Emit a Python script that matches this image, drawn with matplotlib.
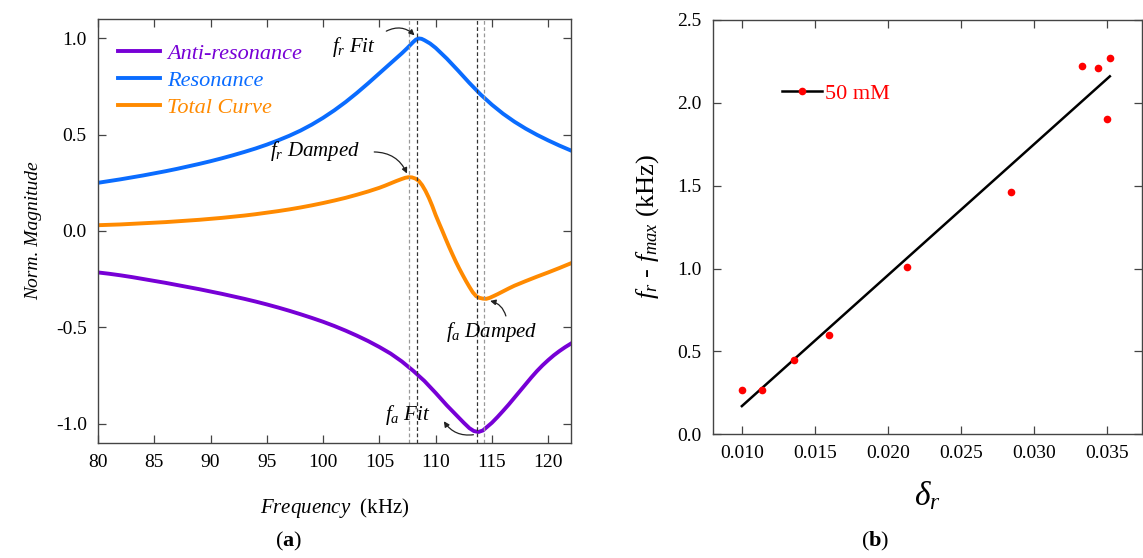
import matplotlib
matplotlib.use('Agg')
import matplotlib.pyplot as plt
from matplotlib.lines import Line2D

plt.rcParams['font.family'] = ['Liberation Serif', 'DejaVu Serif']
plt.rcParams['mathtext.fontset'] = 'custom'
plt.rcParams['mathtext.rm'] = 'Liberation Serif'
plt.rcParams['mathtext.it'] = 'Liberation Serif:italic'
plt.rcParams['mathtext.bf'] = 'Liberation Serif:bold'
plt.rcParams['axes.unicode_minus'] = False

# (a) normalised magnitude curves
freq_res = [80, 81, 82, 83, 84, 85, 86, 87, 88, 89, 90, 91, 92, 93, 94, 95, 96, 97, 98, 99,
            100, 101, 102, 103, 104, 105, 106, 106.5, 107, 107.5, 108, 108.25, 108.5, 108.75,
            109, 109.5, 110, 111, 112, 113, 114, 115, 116, 117, 118, 119, 120, 121, 122]
resonance = [0.250, 0.259, 0.268, 0.278, 0.288, 0.299, 0.310, 0.322, 0.335, 0.348, 0.362,
             0.377, 0.393, 0.410, 0.428, 0.448, 0.470, 0.494, 0.521, 0.552, 0.587, 0.626,
             0.669, 0.716, 0.766, 0.818, 0.870, 0.896, 0.922, 0.950, 0.980, 0.993, 0.999,
             0.997, 0.990, 0.973, 0.950, 0.894, 0.832, 0.768, 0.708, 0.655, 0.608, 0.567,
             0.531, 0.499, 0.470, 0.443, 0.418]

freq_tot = [80, 81, 82, 83, 84, 85, 86, 87, 88, 89, 90, 91, 92, 93, 94, 95, 96, 97, 98, 99,
            100, 101, 102, 103, 104, 105, 105.5, 106, 106.5, 107, 107.3, 107.6, 107.9, 108.2,
            108.5, 108.8, 109.1, 109.4, 109.7, 110, 110.3, 110.6, 110.9, 111.2, 111.5, 111.8,
            112.1, 112.4, 112.7, 113, 113.3, 113.6, 113.9, 114.2, 114.5, 114.8, 115.1, 115.5,
            116, 116.5, 117, 117.5, 118, 119, 120, 121, 122]
total = [0.030, 0.032, 0.034, 0.037, 0.040, 0.043, 0.046, 0.050, 0.054, 0.058, 0.063, 0.068,
         0.074, 0.080, 0.087, 0.095, 0.103, 0.112, 0.122, 0.133, 0.145, 0.158, 0.172, 0.188,
         0.205, 0.224, 0.235, 0.247, 0.259, 0.270, 0.276, 0.279, 0.278, 0.272, 0.260, 0.238,
         0.208, 0.172, 0.130, 0.083, 0.041, 0.000, -0.042, -0.083, -0.122, -0.160, -0.195,
         -0.228, -0.260, -0.290, -0.318, -0.338, -0.347, -0.351, -0.352, -0.347, -0.339,
         -0.328, -0.313, -0.298, -0.284, -0.272, -0.260, -0.237, -0.215, -0.192, -0.168]

freq_anti = [80, 81, 82, 83, 84, 85, 86, 87, 88, 89, 90, 91, 92, 93, 94, 95, 96, 97, 98, 99,
             100, 101, 102, 103, 104, 105, 106, 107, 108, 109, 110, 111, 112, 112.5, 113,
             113.4, 113.8, 114.2, 114.6, 115, 115.5, 116, 116.5, 117, 117.5, 118, 118.5, 119,
             119.5, 120, 120.5, 121, 121.5, 122]
anti = [-0.215, -0.222, -0.230, -0.239, -0.249, -0.259, -0.269, -0.280, -0.291, -0.302,
        -0.314, -0.326, -0.339, -0.352, -0.366, -0.381, -0.397, -0.414, -0.432, -0.451,
        -0.471, -0.493, -0.517, -0.543, -0.571, -0.602, -0.636, -0.677, -0.725, -0.778,
        -0.840, -0.905, -0.965, -0.995, -1.023, -1.038, -1.043, -1.035, -1.015, -0.995,
        -0.965, -0.933, -0.900, -0.865, -0.830, -0.795, -0.760, -0.727, -0.697, -0.670,
        -0.645, -0.623, -0.603, -0.585]

fr_damped, fr_fit = 107.65, 108.35
fa_fit, fa_damped = 113.65, 114.3

# (b) frequency shift vs damping
delta_r = [0.0100, 0.0114, 0.0136, 0.0160, 0.0213, 0.0284, 0.0333, 0.0344, 0.0350, 0.0352]
shift = [0.27, 0.27, 0.45, 0.60, 1.01, 1.46, 2.22, 2.21, 1.90, 2.27]
fit_x = [0.0100, 0.0352]
fit_y = [0.17, 2.16]

c_anti = '#7700d6'
c_res = '#0a6cff'
c_tot = '#ff8a00'

fig = plt.figure(figsize=(11.43, 5.58), dpi=100)
ax1 = fig.add_axes([0.0857, 0.2061, 0.4136, 0.7599])
ax2 = fig.add_axes([0.6235, 0.2217, 0.3756, 0.7425])

for ax in (ax1, ax2):
    ax.tick_params(direction='in', top=True, right=True, length=6, width=0.9,
                   labelsize=14, color='#444444', pad=8)
    for s in ax.spines.values():
        s.set_color('#444444')
        s.set_linewidth(1.0)

ax1.plot(freq_anti, anti, color=c_anti, lw=2.8, label='Anti-resonance')
ax1.plot(freq_res, resonance, color=c_res, lw=2.8, label='Resonance')
ax1.plot(freq_tot, total, color=c_tot, lw=2.8, label='Total Curve')

ax1.axvline(fr_damped, color='#999999', ls='--', lw=0.9, dashes=(3, 2))
ax1.axvline(fr_fit, color='#333333', ls='--', lw=0.9, dashes=(3, 2))
ax1.axvline(fa_fit, color='#333333', ls='--', lw=0.9, dashes=(3, 2))
ax1.axvline(fa_damped, color='#999999', ls='--', lw=0.9, dashes=(3, 2))

ax1.set_xlim(80, 122)
ax1.set_ylim(-1.1, 1.1)
ax1.set_xticks([80, 85, 90, 95, 100, 105, 110, 115, 120])
ax1.set_yticks([-1.0, -0.5, 0.0, 0.5, 1.0])
ax1.set_yticklabels(['-1.0', '-0.5', '0.0', '0.5', '1.0'])

leg = ax1.legend(loc='upper left', bbox_to_anchor=(0.0, 0.99), frameon=False,
                 prop={'style': 'italic', 'size': 16}, handlelength=1.9,
                 handletextpad=0.3, labelspacing=0.3)
for txt, c in zip(leg.get_texts(), [c_anti, c_res, c_tot]):
    txt.set_color(c)

arrow = dict(arrowstyle='-|>', color='#222222', lw=0.9, mutation_scale=8)
ax1.text(102.7, 0.955, r'$f_r\ Fit$', fontsize=15, ha='center', va='center')
ax1.annotate('', xy=(108.3, 1.005), xytext=(105.4, 1.03),
             arrowprops=dict(connectionstyle='arc3,rad=-0.4', **arrow))
ax1.text(99.3, 0.415, r'$f_r\ Damped$', fontsize=15, ha='center', va='center')
ax1.annotate('', xy=(107.55, 0.285), xytext=(104.3, 0.41),
             arrowprops=dict(connectionstyle='arc3,rad=-0.35', **arrow))
ax1.text(115.0, -0.525, r'$f_a\ Damped$', fontsize=15, ha='center', va='center')
ax1.annotate('', xy=(114.6, -0.36), xytext=(116.3, -0.455),
             arrowprops=dict(connectionstyle='arc3,rad=0.35', **arrow))
ax1.text(107.5, -0.955, r'$f_a\ Fit$', fontsize=15, ha='center', va='center')
ax1.annotate('', xy=(110.6, -0.975), xytext=(113.6, -1.055),
             arrowprops=dict(connectionstyle='arc3,rad=-0.35', **arrow))

ax1.set_ylabel('Norm. Magnitude', fontsize=14, style='italic', labelpad=10)
ax1.set_xlabel(r'$Frequency$  (kHz)', fontsize=15, labelpad=18)

ax2.plot(fit_x, fit_y, color='black', lw=1.8)
ax2.plot(delta_r, shift, 'o', color='#ff0000', ms=5.5, mec='none')
ax2.set_xlim(0.008, 0.0374)
ax2.set_ylim(0, 2.5)
ax2.set_xticks([0.010, 0.015, 0.020, 0.025, 0.030, 0.035])
ax2.set_xticklabels(['0.010', '0.015', '0.020', '0.025', '0.030', '0.035'])
ax2.set_yticks([0.0, 0.5, 1.0, 1.5, 2.0, 2.5])
ax2.set_yticklabels(['0.0', '0.5', '1.0', '1.5', '2.0', '2.5'])

h = Line2D([], [], color='black', lw=1.8, marker='o', mfc='#ff0000', mec='none', ms=5.5)
leg2 = ax2.legend([h], ['50 mM'], loc='upper left', bbox_to_anchor=(0.115, 0.895),
                  frameon=False, fontsize=16, handlelength=1.8, handletextpad=0.15)
leg2.get_texts()[0].set_color('#ff0000')

ax2.set_ylabel(r'$f_r$ - $f_{max}$ (kHz)', fontsize=19, labelpad=12)
ax2.set_xlabel(r'$\delta_r$', fontsize=24, labelpad=12)

fig.text(0.252, 0.03, r'($\mathbf{a}$)', fontsize=16, ha='center', va='center')
fig.text(0.766, 0.03, r'($\mathbf{b}$)', fontsize=16, ha='center', va='center')

fig.savefig('out.png', dpi=100)
plt.close(fig)
